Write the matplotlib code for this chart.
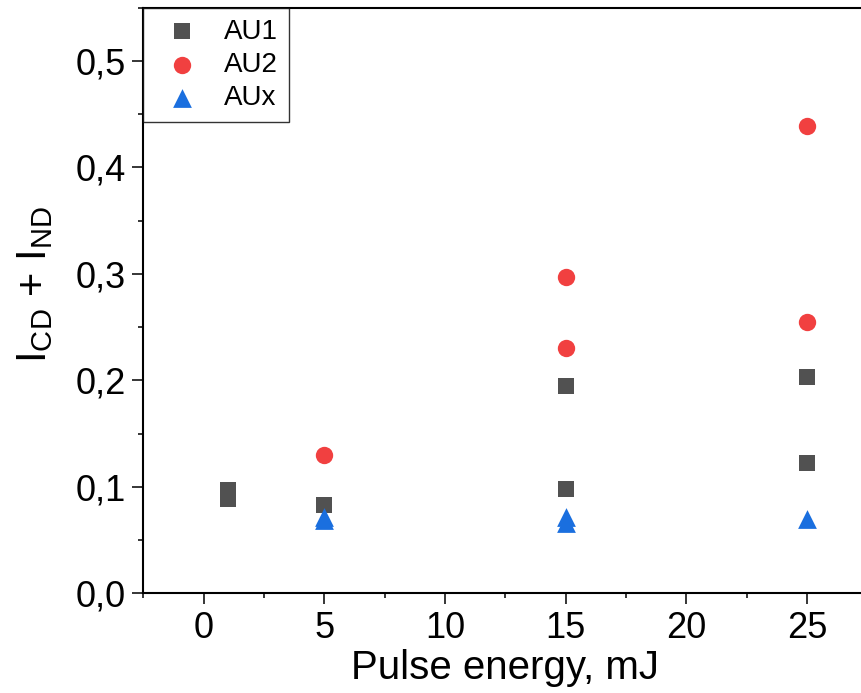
import numpy as np
import matplotlib
matplotlib.use('Agg')
import matplotlib.pyplot as plt
from matplotlib.ticker import MultipleLocator, FuncFormatter

plt.rcParams['font.family'] = ['Liberation Sans', 'DejaVu Sans']
plt.rcParams['mathtext.fontset'] = 'custom'
plt.rcParams['mathtext.rm'] = 'Liberation Sans'
plt.rcParams['mathtext.it'] = 'Liberation Sans'

# data
au1_x = [1, 1, 5, 15, 15, 25, 25]
au1_y = [0.097, 0.089, 0.083, 0.195, 0.098, 0.203, 0.122]

au2_x = [5, 15, 15, 25, 25]
au2_y = [0.130, 0.297, 0.230, 0.439, 0.255]

aux_x = [5, 5, 15, 15, 25]
aux_y = [0.072, 0.069, 0.072, 0.066, 0.070]

fig = plt.figure(figsize=(8.61, 6.93), dpi=100)
# axes run a little past the right edge of the picture, as in the reference
ax = fig.add_axes([143.3 / 861, (693 - 593.3) / 693, (867.4 - 143.3) / 861, (593.3 - 7.5) / 693])

ax.scatter(au1_x, au1_y, marker='s', s=11.5**2, color='#515151', linewidths=0, label='AU1', zorder=3)
ax.scatter(au2_x, au2_y, marker='o', s=12.5**2, color='#F14040', linewidths=0, label='AU2', zorder=3)
ax.scatter(aux_x, aux_y, marker='^', s=13.5**2, color='#1A6FDF', linewidths=0, label='AUx', zorder=3)

ax.set_xlim(-2.5, 27.5)
ax.set_ylim(0, 0.55)

ax.xaxis.set_major_locator(MultipleLocator(5))
ax.xaxis.set_minor_locator(MultipleLocator(2.5))
ax.yaxis.set_major_locator(MultipleLocator(0.1))
ax.yaxis.set_minor_locator(MultipleLocator(0.05))
ax.yaxis.set_major_formatter(FuncFormatter(lambda v, p: f'{v:.1f}'.replace('.', ',')))

ax.tick_params(which='major', direction='out', length=7.7, width=1.1, labelsize=26, pad=5)
ax.tick_params(which='minor', direction='out', length=3.8, width=1.1)
for sp in ax.spines.values():
    sp.set_linewidth(1.5)

ax.set_xlabel('Pulse energy, mJ', fontsize=29, labelpad=2)
ax.set_ylabel(r'I$_{\mathrm{CD}}$ + I$_{\mathrm{ND}}$', fontsize=30)
ax.yaxis.set_label_coords(-0.122, 0.527)

leg = ax.legend(loc='upper left', fontsize=20, frameon=True, fancybox=False,
                borderaxespad=0, handletextpad=0.5, borderpad=0.4, labelspacing=0.26,
                handlelength=2.0, scatterpoints=1, markerscale=1.0)
leg.get_frame().set_edgecolor('black')
leg.get_frame().set_linewidth(1.0)

fig.savefig('out.png', dpi=100)
